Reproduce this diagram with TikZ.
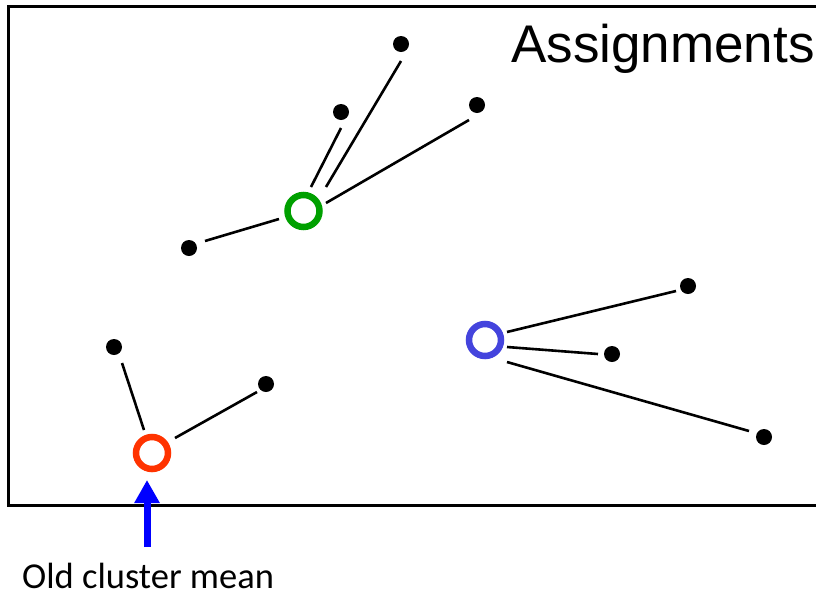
\documentclass[tikz,border=0pt]{standalone}
\usepackage{fontspec}
\setmainfont{Liberation Sans}
\newfontfamily\calib{Carlito}
\usetikzlibrary{arrows.meta}
\definecolor{cred}{RGB}{255,51,0}
\definecolor{cgreen}{RGB}{0,160,0}
\definecolor{cblue}{RGB}{68,68,221}
\begin{document}
\begin{tikzpicture}[x=1pt,y=-1pt,
  dot/.style={circle,fill=black,inner sep=0pt,minimum size=16pt},
  mean/.style={circle,draw=#1,line width=6.5pt,fill=white,inner sep=0pt,minimum size=32pt},
  link/.style={line width=2.6pt}]
\useasboundingbox (0,0) rectangle (816,595);
\draw[line width=3pt] (830,6.5) -- (8.5,6.5) -- (8.5,505.5) -- (830,505.5);
\node[anchor=base west,font=\fontsize{53}{60}\selectfont,inner sep=0pt] (title) at (511,62) {Assignments};
% dots
\node[dot] (a1) at (401,44) {};
\node[dot] (a2) at (341,112) {};
\node[dot] (a3) at (477,105) {};
\node[dot] (a4) at (189,248) {};
\node[dot] (b1) at (114,347) {};
\node[dot] (b2) at (266,384) {};
\node[dot] (c1) at (688,286) {};
\node[dot] (c2) at (612,354) {};
\node[dot] (c3) at (764,437) {};
% means
\node[mean=cgreen] (g) at (303.5,211) {};
\node[mean=cred] (r) at (152,453) {};
\node[mean=cblue] (bl) at (485,340) {};
% line ends
\coordinate (ga1) at (326,187); \coordinate (ea1) at (401,61);
\coordinate (ga2) at (311,187); \coordinate (ea2) at (341,128);
\coordinate (ga3) at (326,203); \coordinate (ea3) at (469,120);
\coordinate (ga4) at (279,219); \coordinate (ea4) at (205,241);
\coordinate (rb1) at (144,430); \coordinate (eb1) at (122,363);
\coordinate (rb2) at (175,438); \coordinate (eb2) at (257,392);
\coordinate (bc1) at (507,332); \coordinate (ec1) at (676,291);
\coordinate (bc2) at (507,347); \coordinate (ec2) at (598,354);
\coordinate (bc3) at (507,362); \coordinate (ec3) at (749,431);
% links
\draw[link] (ga1) -- (ea1);
\draw[link] (ga2) -- (ea2);
\draw[link] (ga3) -- (ea3);
\draw[link] (ga4) -- (ea4);
\draw[link] (rb1) -- (eb1);
\draw[link] (rb2) -- (eb2);
\draw[link] (bc1) -- (ec1);
\draw[link] (bc2) -- (ec2);
\draw[link] (bc3) -- (ec3);
% label and arrow
\node[anchor=base west,font=\calib\fontsize{36.5}{42}\selectfont,inner sep=0pt] (lab) at (22,588) {Old cluster mean};
\coordinate (tail) at (147,547);
\coordinate (tip) at (147,480);
\draw[line width=7pt,color=blue,-{Triangle[width=24pt,length=23pt]}] (tail) -- (tip);
\end{tikzpicture}
\end{document}
